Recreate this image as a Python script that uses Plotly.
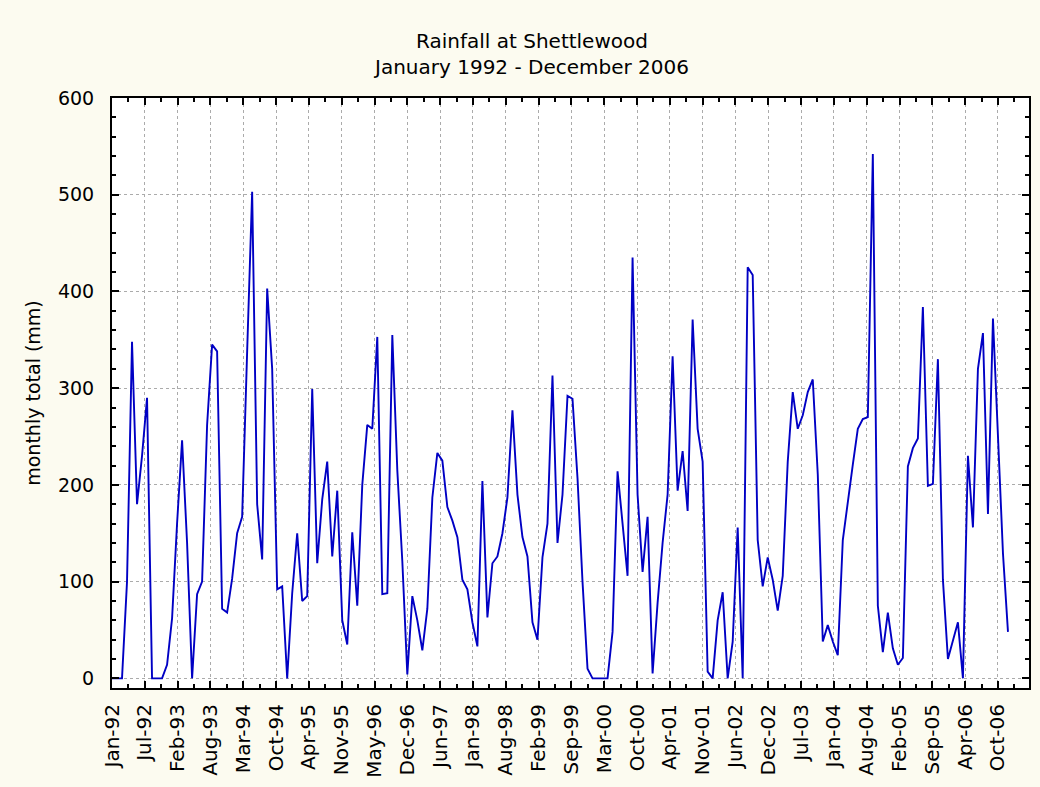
import numpy as np
import pandas as pd
import plotly.graph_objects as go

# Monthly rainfall totals (mm)
rain_1992 = [0, 0, 0, 100, 348, 180, 230, 290, 0, 0, 0, 14]
rain_1993 = [62, 160, 246, 140, 0, 87, 100, 262, 345, 338, 72, 68]
rain_1994 = [103, 150, 167, 338, 503, 180, 123, 403, 320, 92, 95, 0]
rain_1995 = [88, 150, 80, 85, 299, 119, 185, 224, 126, 194, 60, 35]
rain_1996 = [151, 75, 200, 262, 258, 353, 87, 88, 355, 215, 121, 4]
rain_1997 = [85, 60, 29, 72, 187, 233, 225, 177, 163, 146, 102, 92]
rain_1998 = [58, 33, 204, 63, 119, 126, 150, 187, 277, 190, 146, 126]
rain_1999 = [58, 40, 125, 160, 313, 140, 190, 292, 289, 207, 100, 10]
rain_2000 = [0, 0, 0, 0, 48, 214, 160, 106, 435, 190, 110, 167]
rain_2001 = [5, 78, 140, 190, 333, 194, 235, 173, 371, 258, 224, 7]
rain_2002 = [0, 60, 89, 0, 38, 156, 0, 425, 417, 143, 95, 125]
rain_2003 = [102, 70, 106, 224, 296, 258, 272, 296, 309, 211, 38, 55]
rain_2004 = [38, 24, 143, 184, 221, 258, 268, 270, 542, 75, 27, 68]
rain_2005 = [31, 14, 21, 219, 238, 248, 384, 199, 201, 330, 102, 20]
rain_2006 = [40, 58, 0, 230, 156, 320, 357, 170, 372, 245, 129, 48]

rain_by_year = [rain_1992, rain_1993, rain_1994, rain_1995, rain_1996,
                rain_1997, rain_1998, rain_1999, rain_2000, rain_2001,
                rain_2002, rain_2003, rain_2004, rain_2005, rain_2006]

tick_labels = ["Jan-92", "Jul-92", "Feb-93", "Aug-93", "Mar-94", "Oct-94",
               "Apr-95", "Nov-95", "May-96", "Dec-96", "Jun-97", "Jan-98",
               "Aug-98", "Feb-99", "Sep-99", "Mar-00", "Oct-00", "Apr-01",
               "Nov-01", "Jun-02", "Dec-02", "Jul-03", "Jan-04", "Aug-04",
               "Feb-05", "Sep-05", "Apr-06", "Oct-06"]

values = [v for yr in rain_by_year for v in yr]
month_index = np.arange(len(values))
month_names = pd.date_range("1992-01-01", periods=len(values), freq="MS").strftime("%b-%y")

# tick positions: evenly spaced between the first and last labelled months
lab_dates = pd.to_datetime(tick_labels, format="%b-%y")
lab_idx = (lab_dates.year - 1992) * 12 + (lab_dates.month - 1)
tickvals = np.linspace(lab_idx[0], lab_idx[-1], len(tick_labels))
step = tickvals[1] - tickvals[0]
minor_x = list(tickvals + step / 2)

fig = go.Figure()
fig.add_trace(go.Scatter(
    x=month_index, y=values, mode="lines",
    line=dict(color="#0000C4", width=1.9),
    text=month_names, hovertemplate="%{text}: %{y} mm<extra></extra>",
))

axis_common = dict(
    showline=True, linecolor="black", linewidth=2, mirror="ticks",
    ticks="inside", tickcolor="black", tickwidth=1.5, ticklen=7,
    showgrid=True, gridcolor="#ABABAB", griddash="dot", gridwidth=1,
    zeroline=False,
)

fig.update_layout(
    width=1040, height=787,
    margin=dict(l=112, r=9, t=98, b=90),
    paper_bgcolor="#FCFBF0", plot_bgcolor="white",
    showlegend=False,
    font=dict(family="DejaVu Sans", size=19, color="black"),
    title=dict(text="Rainfall at Shettlewood<br>January 1992 - December 2006",
               x=532 / 1040, xanchor="center", y=1 - 48 / 787, yanchor="middle",
               font=dict(size=20, color="black")),
    xaxis=dict(
        range=[0, 183.2], tickmode="array", tickvals=list(tickvals),
        ticktext=tick_labels, tickangle=-90, tickfont=dict(size=20),
        ticklabelstandoff=6,
        minor=dict(tickmode="array", tickvals=minor_x, ticks="inside",
                   ticklen=4, tickcolor="black", tickwidth=1.5, showgrid=False),
        **axis_common,
    ),
    yaxis=dict(
        range=[-10, 600], tickmode="linear", tick0=0, dtick=100,
        tickfont=dict(size=19), ticklabelstandoff=12,
        title=dict(text="monthly total (mm)", standoff=12, font=dict(size=19)),
        minor=dict(tickmode="linear", tick0=0, dtick=20, ticks="inside",
                   ticklen=4, tickcolor="black", tickwidth=1.5, showgrid=False),
        **axis_common,
    ),
)

fig.write_html("out.html")
